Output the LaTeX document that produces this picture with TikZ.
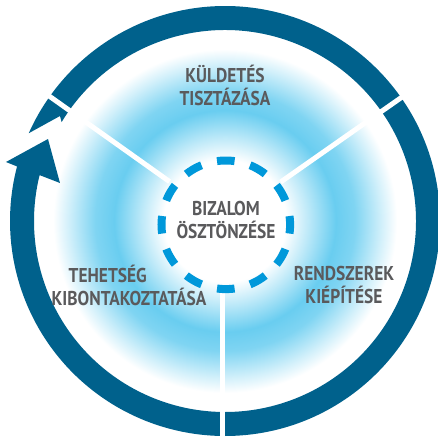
\documentclass[tikz,border=0pt]{standalone}
\usepackage{fontspec}
\newfontfamily\lblfont[FakeStretch=0.87]{PT Sans Bold}
\definecolor{ringblue}{RGB}{0,97,140}
\definecolor{dashblue}{RGB}{0,152,218}
\definecolor{glowblue}{RGB}{105,205,240}
\definecolor{txtgray}{RGB}{90,90,92}
\pgfdeclareradialshading{glow}{\pgfpoint{0bp}{0bp}}{color(0bp)=(white); color(8bp)=(white); color(11bp)=(glowblue!45); color(14.5bp)=(glowblue); color(17bp)=(glowblue!85); color(20.5bp)=(glowblue!30); color(22.5bp)=(white); color(50bp)=(white)}
\tikzset{
  ring/.style={fill=ringblue},
  spoke/.style={white, line width=5},
  dashring/.style={dashblue, line width=8, dash pattern=on 17.6pt off 16.07pt, dash phase=8.8pt},
  lbl/.style={text=txtgray, align=center, inner sep=0pt, font=\lblfont\fontsize{20}{23}\selectfont}
}
\begin{document}
\begin{tikzpicture}[x=1pt,y=1pt]
\pgfmathsetmacro{\ro}{215};
\pgfmathsetmacro{\ri}{191};
\useasboundingbox (-225,-219) rectangle (213,221);
\coordinate (O) at (0,0);
\coordinate (T) at (-177,82);   % arrow tip
\coordinate (B1) at (-219,59);
\coordinate (B2) at (-165,38);
\coordinate (N) at (-165,105);  % notch
\shade[shading=glow] (O) circle[radius=\ri];
% right and top arcs, notched end
\fill[ring] (-90:\ri) -- (-90:\ro) arc[start angle=-90, end angle=155.9, radius=\ro] -- (N) -- (148.8:\ri) arc[start angle=148.8, end angle=-90, radius=\ri] -- cycle;
% left arc with arrow head
\fill[ring] (270:\ro) arc[start angle=270, end angle=165.3, radius=\ro] -- (B1) -- (T) -- (B2) -- (166.1:\ri) arc[start angle=166.1, end angle=270, radius=\ri] -- cycle;
\draw[spoke] (35:68) -- (35:225);
\draw[spoke] (144.6:68) -- (144.6:225);
\draw[spoke] (-2,-68) -- (-2,-225);
\draw[dashring] (0.8,-3.8) circle[radius=64.3];
\node[lbl] (mission) at (0,136) {KÜLDETÉS\\TISZTÁZÁSA};
\node[lbl] (trust) at (1,1.5) {BIZALOM\\ÖSZTÖNZÉSE};
\node[lbl, align=left] (talent) at (-96,-64) {\hspace*{17pt}TEHETSÉG\\KIBONTAKOZTATÁSA};
\node[lbl] (systems) at (119,-64) {RENDSZEREK\\KIÉPÍTÉSE};
\end{tikzpicture}
\end{document}
